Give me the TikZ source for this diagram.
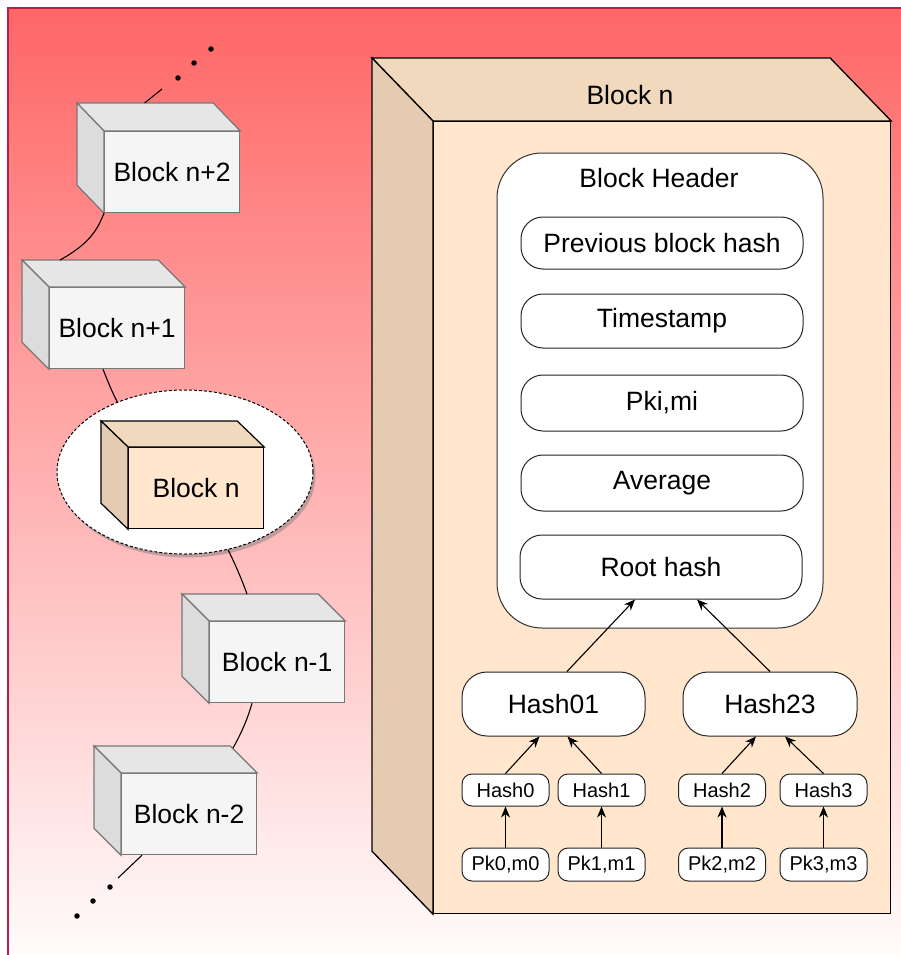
\documentclass[tikz,border=0pt]{standalone}
\usepackage{fontspec}
\setmainfont{Liberation Sans}
\usetikzlibrary{arrows.meta,shapes.geometric,shadows}

\definecolor{bgtop}{HTML}{FF6666}
\definecolor{bgbottom}{HTML}{FFFFFF}
\definecolor{frameline}{HTML}{B71C4A}
\definecolor{grayfront}{HTML}{F5F5F5}
\definecolor{graytop}{HTML}{E6E6E6}
\definecolor{grayside}{HTML}{DCDCDC}
\definecolor{grayedge}{HTML}{777777}
\definecolor{tanfront}{HTML}{FFE6CC}
\definecolor{tantop}{HTML}{F1D9BD}
\definecolor{tanside}{HTML}{E4CBB2}

% top and left faces of a box whose front face is the node #1
\newcommand\cubefaces[5]{%
  \filldraw[fill=#4] (#1.north west) -- ++(-#2,-#3)
    -- ([shift={(-#2,-#3)}]#1.north east) -- (#1.north east) -- cycle;
  \filldraw[fill=#5] (#1.north west) -- ++(-#2,-#3)
    -- ([shift={(-#2,-#3)}]#1.south west) -- (#1.south west) -- cycle;
}

\begin{document}
\begin{tikzpicture}[x=1pt,y=-1pt,
  big/.style={font=\fontsize{26.5}{30}\selectfont},
  small/.style={font=\fontsize{20}{24}\selectfont},
  grayblock/.style={draw=grayedge, line width=1.2pt, fill=grayfront, inner sep=0pt,
    anchor=north west, minimum width=135pt, minimum height=81pt, big},
  tanblock/.style={draw=black, line width=1.2pt, fill=tanfront, inner sep=0pt,
    anchor=north west, big},
  field/.style={draw=black!85, line width=1pt, fill=white, rounded corners=22pt,
    minimum width=282pt, inner sep=0pt, big},
  hashbox/.style={draw=black!85, line width=1pt, fill=white, rounded corners=25pt,
    minimum height=64pt, inner sep=0pt, big},
  leaf/.style={draw=black!85, line width=1pt, fill=white, rounded corners=10pt,
    minimum width=87pt, inner sep=0pt, small},
  arr/.style={line width=1.1pt, -{Stealth[length=11pt,width=9pt,inset=3.5pt]}},
  chain/.style={line width=1.1pt},
  dot/.style={circle, fill=black, inner sep=0pt, minimum size=5.5pt}]

\useasboundingbox (0,0) rectangle (900,955);

% backdrop
\shade[top color=bgtop, bottom color=bgbottom] (8,8) rectangle (920,975);
\draw[frameline, line width=1.5pt] (8,975) -- (8,8) -- (920,8);

% ---------- chain of blocks ----------
\node[grayblock] (bn2) at (104,131) {Block n+2};
\begin{scope}[draw=grayedge, line width=1.2pt]
  \cubefaces{bn2}{27}{28}{graytop}{grayside}
\end{scope}

\node[grayblock] (bn1) at (49,287) {Block n+1};
\begin{scope}[draw=grayedge, line width=1.2pt]
  \cubefaces{bn1}{27}{27}{graytop}{grayside}
\end{scope}

\node[ellipse, draw=black, line width=1pt, dash pattern=on 3pt off 2pt, fill=white,
  minimum width=256pt, minimum height=164pt, inner sep=0pt,
  drop shadow={shadow xshift=2.5pt, shadow yshift=-3.5pt, opacity=0.5, fill=black!50}]
  (sel) at (185,472) {};
\node[tanblock, minimum width=135pt, minimum height=81pt] (bnsmall) at (128,447) {Block n};
\begin{scope}[draw=black, line width=1.2pt]
  \cubefaces{bnsmall}{27}{26}{tantop}{tanside}
\end{scope}

\node[grayblock] (bm1) at (209,621) {Block n-1};
\begin{scope}[draw=grayedge, line width=1.2pt]
  \cubefaces{bm1}{27}{27}{graytop}{grayside}
\end{scope}

\node[grayblock] (bm2) at (121,773) {Block n-2};
\begin{scope}[draw=grayedge, line width=1.2pt]
  \cubefaces{bm2}{27}{27}{graytop}{grayside}
\end{scope}

% links between the blocks
\coordinate (topend) at (162,89);
\coordinate (botend) at (118,878);
\node[dot] (ut1) at (178,78) {};
\node[dot] (ut2) at (194,63) {};
\node[dot] (ut3) at (211,49) {};
\node[dot] (lt1) at (110,887) {};
\node[dot] (lt2) at (93,901) {};
\node[dot] (lt3) at (77,916) {};

\draw[chain] (bn2.north) ++(-27.5,-28) -- (topend);
\draw[chain] (bn2.south west) .. controls (98,228) and (91,243) .. ([shift={(11,-27)}]bn1.north west);
\draw[chain] ([xshift=54pt]bn1.south west) .. controls (108,382) and (113,394) .. (sel.134);
\draw[chain] (sel.-61) .. controls (236,566) and (242,580) .. ([shift={(38,-27)}]bm1.north west);
\draw[chain] ([xshift=43pt]bm1.south west) .. controls (248,718) and (241,734) .. ([shift={(112,-25)}]bm2.north west);
\draw[chain] ([xshift=21pt]bm2.south west) -- (botend);

% ---------- the block in detail ----------
\node[tanblock, minimum width=457pt, minimum height=792pt] (bigfront) at (433,121) {};
\begin{scope}[draw=black, line width=1.3pt]
  \cubefaces{bigfront}{61}{63}{tantop}{tanside}
\end{scope}
\node[big] (bigtitle) at (630,95) {Block n};

\node[draw=black!80, line width=1pt, fill=white, rounded corners=45pt,
  minimum width=326pt, minimum height=475pt, inner sep=0pt] (hdr) at (660,390.5) {};
\node[big] (hdrtitle) at (659,178) {Block Header};

\node[field, minimum height=52pt] (prev) at (662,243) {Previous block hash};
\node[field, minimum height=54pt] (ts)   at (662,321) {Timestamp};
\node[field, minimum height=56pt] (pki)  at (662,403) {Pki,mi};
\node[field, minimum height=56pt] (avg)  at (662,483) {Average};
\node[field, minimum height=64pt] (root) at (661,567) {Root hash};

\node[hashbox, minimum width=183pt] (h01) at (553.5,704) {Hash01};
\node[hashbox, minimum width=174pt] (h23) at (770,704) {Hash23};

\node[leaf, minimum height=32pt] (h0) at (505.5,790) {Hash0};
\node[leaf, minimum height=32pt] (h1) at (601.5,790) {Hash1};
\node[leaf, minimum height=32pt] (h2) at (722,790) {Hash2};
\node[leaf, minimum height=32pt] (h3) at (823.5,790) {Hash3};

\node[leaf, minimum height=33pt] (p0) at (505.5,864.5) {Pk0,m0};
\node[leaf, minimum height=33pt] (p1) at (601.5,864.5) {Pk1,m1};
\node[leaf, minimum height=33pt] (p2) at (722,864.5) {Pk2,m2};
\node[leaf, minimum height=33pt] (p3) at (823.5,864.5) {Pk3,m3};

\draw[arr] (p0) -- (h0);
\draw[arr] (p1) -- (h1);
\draw[arr] (p2) -- (h2);
\draw[arr] (p3) -- (h3);
\draw[arr] (h0.north) -- ([xshift=-14pt]h01.south);
\draw[arr] (h1.north) -- ([xshift=14pt]h01.south);
\draw[arr] (h2.north) -- ([xshift=-14pt]h23.south);
\draw[arr] (h3.north) -- ([xshift=15pt]h23.south);
\draw[arr] ([xshift=13.5pt]h01.north) -- ([xshift=-26pt]root.south);
\draw[arr] (h23.north) -- ([xshift=36pt]root.south);

\end{tikzpicture}
\end{document}
